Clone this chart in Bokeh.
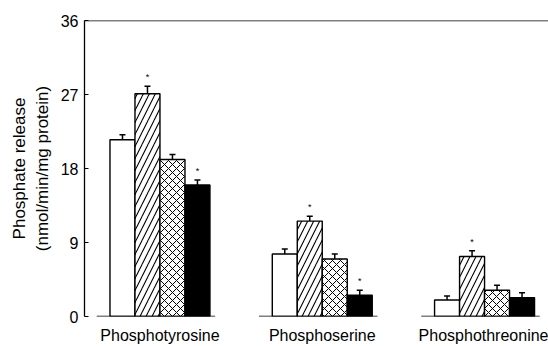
from bokeh.plotting import figure
from bokeh.models import ColumnDataSource, FixedTicker, Span, Whisker
from bokeh.transform import dodge
from bokeh.core.properties import value
from bokeh.embed import file_html
from bokeh.resources import INLINE

categories = ["Phosphotyrosine", "Phosphoserine", "Phosphothreonine"]
control = [21.5, 7.6, 2.0]
control_err = [0.6, 0.6, 0.5]
treat_a = [27.1, 11.6, 7.3]
treat_a_err = [0.9, 0.6, 0.7]
treat_b = [19.1, 7.0, 3.2]
treat_b_err = [0.6, 0.6, 0.6]
treat_c = [16.0, 2.6, 2.3]
treat_c_err = [0.6, 0.6, 0.6]
sig_a = [True, True, True]
sig_c = [True, True, False]
y_ticks = [0, 9, 18, 27, 36]

FONT = "Liberation Sans"
W = 0.154
xs = list(range(len(categories)))

p = figure(width=548, height=346, output_backend="svg", toolbar_location=None,
           x_range=(-0.465, 2.394), y_range=(0, 36),
           min_border_left=84, min_border_top=20, min_border_bottom=26, min_border_right=0)
p.outline_line_color = None
p.xgrid.grid_line_color = None
p.ygrid.grid_line_color = None
p.background_fill_color = "white"
p.border_fill_color = "white"

series = [
    (control, control_err, -1.5, dict(fill_color="white"), [False] * 3),
    (treat_a, treat_a_err, -0.5, dict(fill_color="white", hatch_pattern="right_diagonal_line",
                                      hatch_scale=12, hatch_weight=1.1, hatch_color="black"), sig_a),
    (treat_b, treat_b_err, 0.5, dict(fill_color="white", hatch_pattern="diagonal_cross",
                                     hatch_scale=8, hatch_weight=1.0, hatch_color="black"), [False] * 3),
    (treat_c, treat_c_err, 1.5, dict(fill_color="black"), sig_c),
]

for vals, errs, off, style, sig in series:
    src = ColumnDataSource(dict(
        x=xs, top=vals, upper=[v + e for v, e in zip(vals, errs)],
        star_y=[v + e + 1.1 for v, e in zip(vals, errs)],
        star=["*" if s else "" for s in sig]))
    p.vbar(x=dodge("x", off * W, range=p.x_range), top="top", bottom=0, width=W,
           source=src, line_color="black", line_width=1.4, **style)
    w = Whisker(base=dodge("x", off * W, range=p.x_range), upper="upper", lower="top",
                source=src, line_color="black", line_width=1.5,
                level="overlay")
    w.upper_head.size = 6
    w.upper_head.line_width = 1.5
    w.lower_head = None
    p.add_layout(w)
    p.text(x=dodge("x", off * W, range=p.x_range), y="star_y", text="star", source=src,
           text_align="center", text_baseline="middle", text_font_size="9px",
           text_font=value(FONT), text_color="black")

# group baselines
p.segment(x0=[x - 0.39 for x in xs], x1=[x + 0.34 for x in xs], y0=[0] * 3, y1=[0] * 3,
          line_color="black", line_width=1.3)

p.add_layout(Span(location=36, dimension="width", line_color="black", line_width=1.3))

p.yaxis.ticker = FixedTicker(ticks=y_ticks)
p.yaxis.major_tick_in = 4
p.yaxis.major_tick_out = 0
p.yaxis.minor_tick_line_color = None
p.yaxis.axis_line_width = 1.3
p.yaxis.major_tick_line_width = 1.2
p.yaxis.major_label_text_font = FONT
p.yaxis.major_label_text_font_size = "16px"
p.yaxis.major_label_text_color = "black"
p.yaxis.major_label_standoff = 6
p.yaxis.axis_label = "Phosphate release\n(nmol/min/mg protein)"
p.yaxis.axis_label_text_font = FONT
p.yaxis.axis_label_text_font_size = "17px"
p.yaxis.axis_label_text_font_style = "normal"
p.yaxis.axis_label_text_color = "black"
p.yaxis.axis_label_standoff = 6

p.xaxis.ticker = FixedTicker(ticks=xs)
p.xaxis.major_label_overrides = {i: c for i, c in enumerate(categories)}
p.xaxis.axis_line_color = None
p.xaxis.major_tick_line_color = None
p.xaxis.minor_tick_line_color = None
p.xaxis.major_label_text_font = FONT
p.xaxis.major_label_text_font_size = "16px"
p.xaxis.major_label_text_color = "black"
p.xaxis.major_label_standoff = 4

open("out.html", "w").write(file_html(p, INLINE))
